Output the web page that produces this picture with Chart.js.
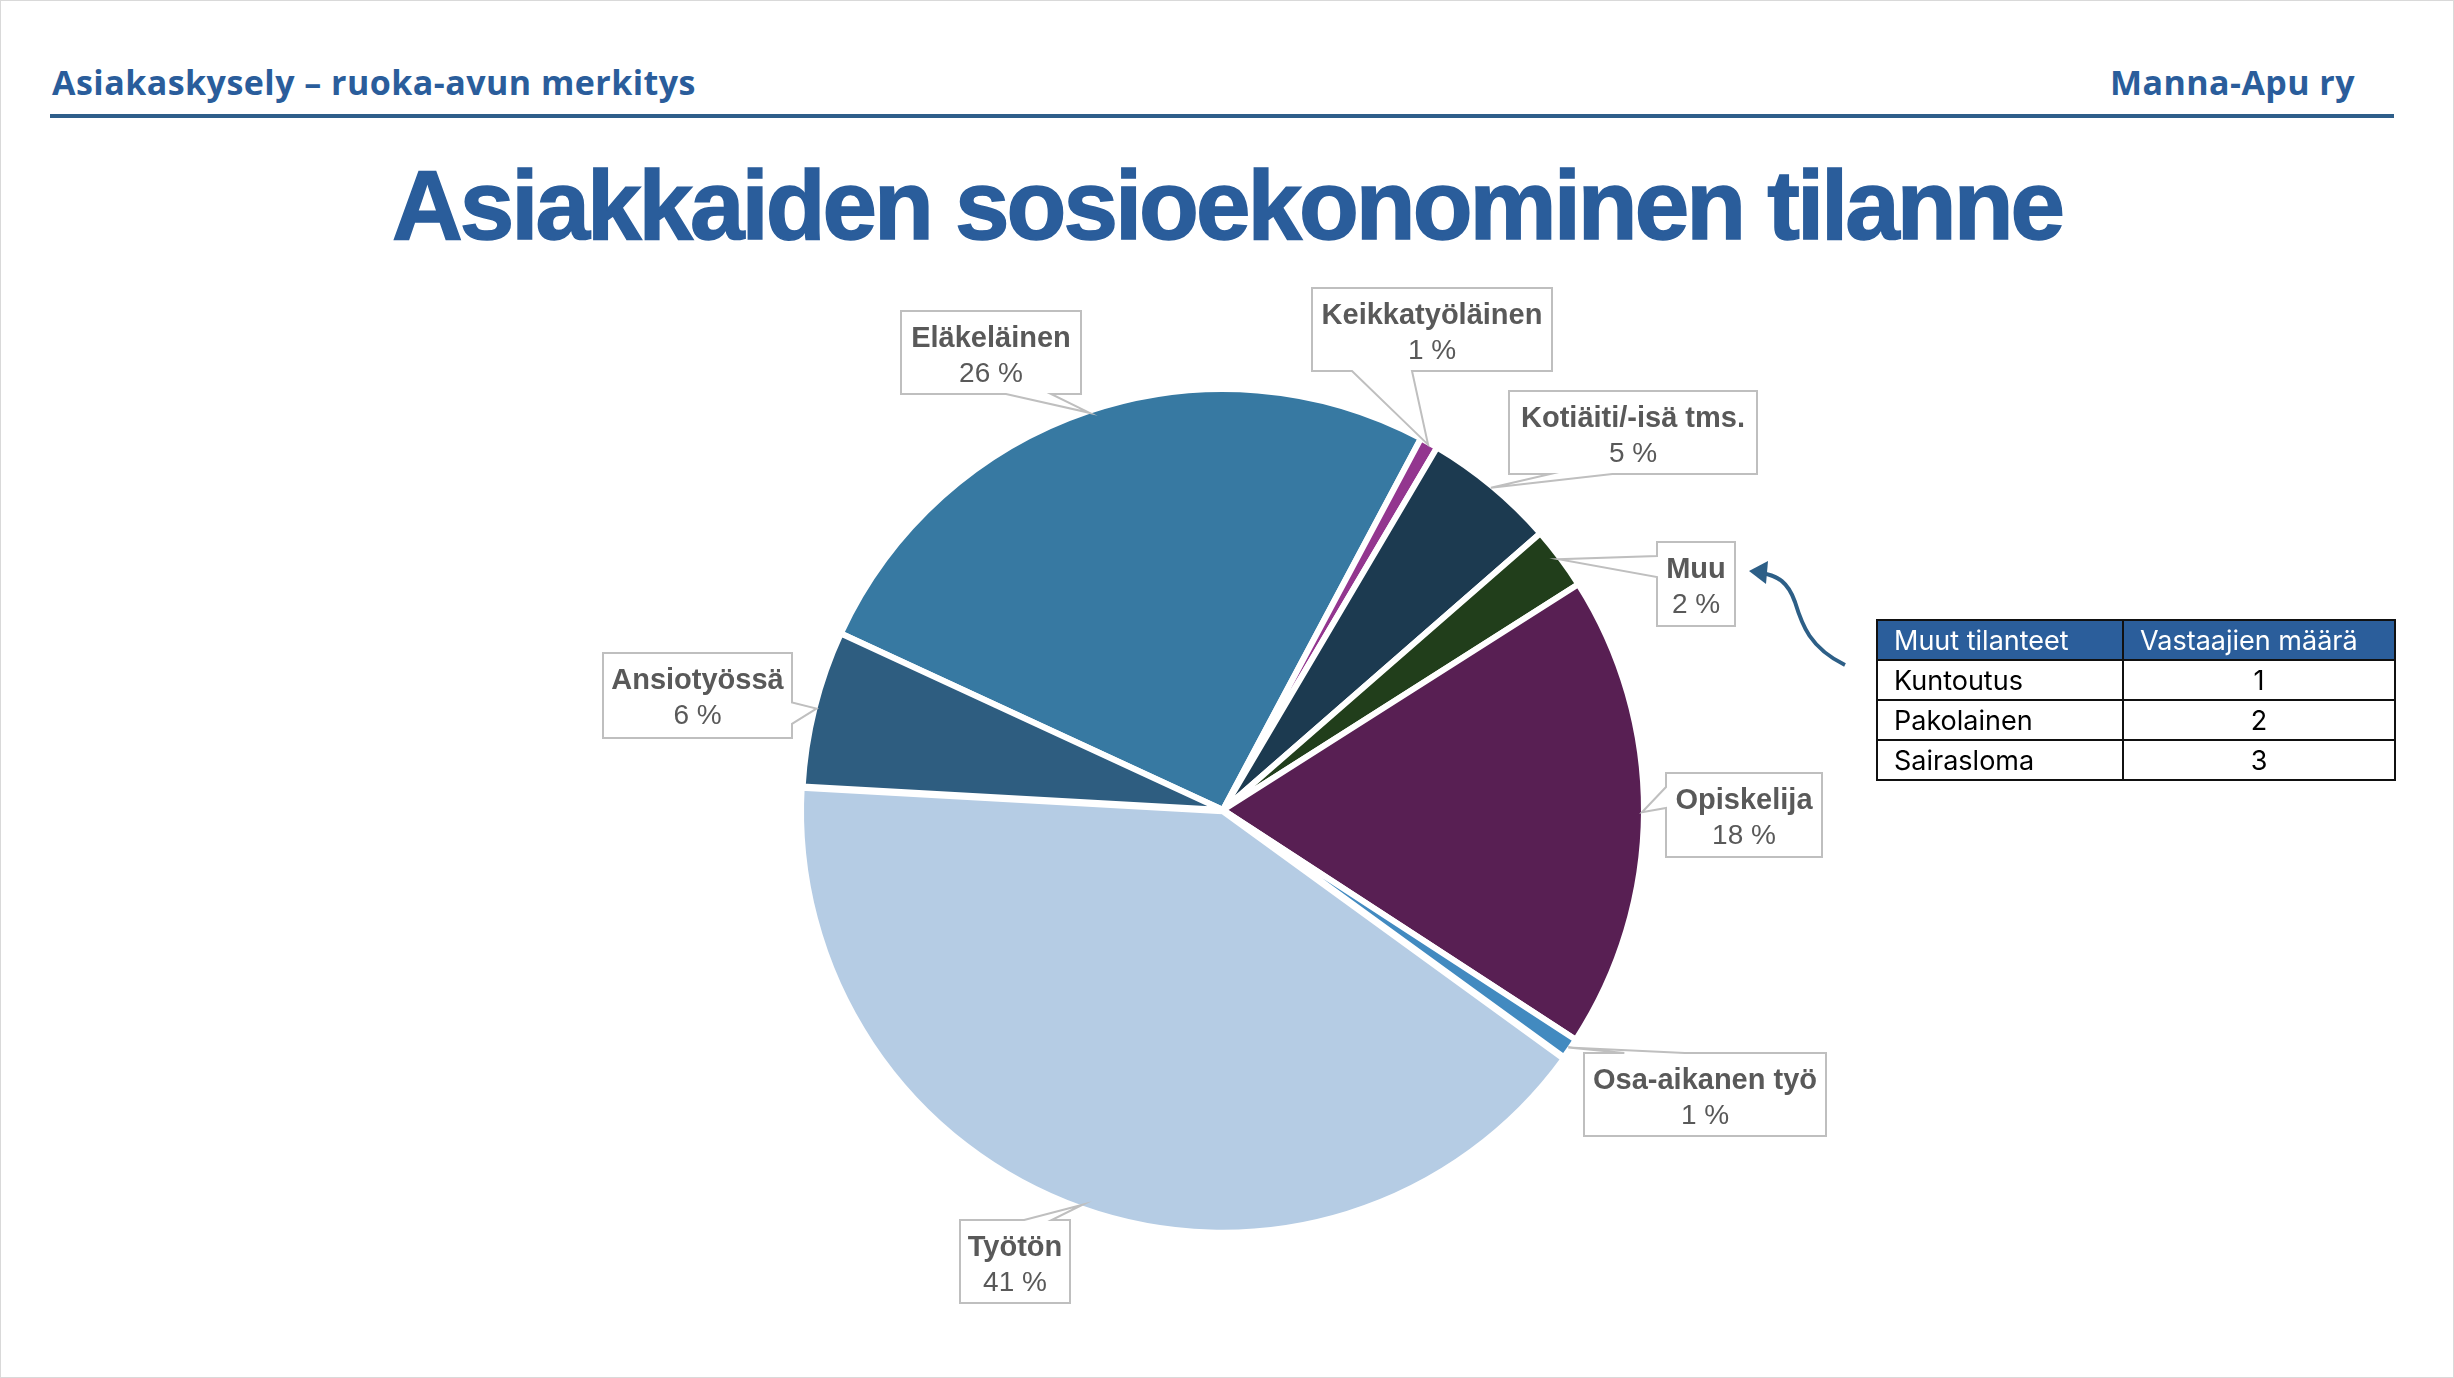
<!DOCTYPE html>
<html lang="fi">
<head>
<meta charset="utf-8">
<title>Asiakkaiden sosioekonominen tilanne</title>
<script src="https://cdn.jsdelivr.net/npm/chart.js@4"></script>
<style>
  html, body { margin: 0; padding: 0; background: #fff; }
  body { width: 2454px; height: 1378px; position: relative; overflow: hidden; }
  .frame { position: absolute; left: 0; top: 0; width: 2452px; height: 1376px; border: 1px solid #d9d9d9; pointer-events: none; }
  .hdr { position: absolute; top: 60px; font-family: "Open Sans", sans-serif; font-weight: 700; font-size: 34px; color: #2a5d9b; white-space: nowrap; line-height: 44px; }
  #hdrLeft { left: 52px; }
  #hdrRight { right: 99px; }
  .rule { position: absolute; left: 50px; top: 114px; width: 2344px; height: 4px; background: #2e5e8a; }
  #title { position: absolute; left: 0; width: 2454px; top: 150px; text-align: center; font-family: "Liberation Sans", Arial, sans-serif; font-weight: 700; font-size: 98px; line-height: 110px; color: #2a5d9b; white-space: nowrap; -webkit-text-stroke: 1.5px #2a5d9b; }
  #chart { position: absolute; left: 0; top: 0; }
  #arrow { position: absolute; left: 0; top: 0; }
  table { position: absolute; left: 1876px; top: 619px; border-collapse: collapse; font-family: "Inter", sans-serif; font-size: 27px; color: #000; }
  td, th { border: 2.5px solid #111; padding: 0 16px; height: 38px; font-weight: 400; }
  th { background: #2b5e9b; color: #fff; text-align: left; }
  td.n { text-align: center; }
  col.c1 { width: 246px; }
  col.c2 { width: 272px; }
</style>
</head>
<body>
<div class="hdr" id="hdrLeft">Asiakaskysely – ruoka-avun merkitys</div>
<div class="hdr" id="hdrRight">Manna-Apu ry</div>
<div class="rule"></div>
<div id="title">Asiakkaiden sosioekonominen tilanne</div>
<canvas id="chart" width="2454" height="1378"></canvas>
<svg id="arrow" width="2454" height="1378">
  <path d="M1845,665 C1810,648 1802,625 1795,602 C1788,582 1778,576 1762,573" fill="none" stroke="#2d5f87" stroke-width="4"/>
  <polygon points="1749,571 1768,561 1766,584" fill="#2d5f87"/>
</svg>
<table>
  <colgroup><col class="c1"><col class="c2"></colgroup>
  <tr><th>Muut tilanteet</th><th>Vastaajien määrä</th></tr>
  <tr><td>Kuntoutus</td><td class="n">1</td></tr>
  <tr><td>Pakolainen</td><td class="n">2</td></tr>
  <tr><td>Sairasloma</td><td class="n">3</td></tr>
</table>
<div class="frame"></div>
<script>
// Slices in drawing order (clockwise, starting from Eläkeläinen)
const categories = ['Eläkeläinen', 'Keikkatyöläinen', 'Kotiäiti/-isä tms.', 'Muu', 'Opiskelija', 'Osa-aikanen työ', 'Työtön', 'Ansiotyössä'];
const shares = [25.9, 0.7, 5.1, 2.4, 18.2, 0.8, 40.9, 6.0];
const sliceColors = ['#3779a2', '#93368f', '#1c3a50', '#213e1b', '#581f53', '#428ac0', '#b5cce4', '#2e5d80'];

// Callout boxes [left, top, width, height] in page pixels
const boxes = [
  [901, 311, 180, 83],
  [1312, 288, 240, 83],
  [1509, 391, 248, 83],
  [1657, 542, 78, 84],
  [1666, 773, 156, 84],
  [1584, 1053, 242, 83],
  [960, 1220, 110, 83],
  [603, 653, 189, 85]
];

const total = shares.reduce((a, b) => a + b, 0);

// stretch the header/title text to the width used on the slide
function fitWidth(id, target) {
  const el = document.getElementById(id);
  const span = document.createElement('span');
  span.textContent = el.textContent;
  el.textContent = '';
  el.appendChild(span);
  const w = span.getBoundingClientRect().width;
  const n = span.textContent.length;
  el.style.letterSpacing = ((target - w) / n) + 'px';
}
fitWidth('hdrLeft', 644);
fitWidth('hdrRight', 245);
fitWidth('title', 1670);

// Excel-style rectangular callout with a wedge pointing at (px, py)
function calloutPath(ctx, l, t, w, h, px, py) {
  const r = l + w, b = t + h, hc = l + w / 2, vc = t + h / 2;
  const dx = px - hc, dy = py - vc;
  const dz = Math.abs(dy) - Math.abs(dx * h / w);
  const x1 = l + w * (dx > 0 ? 7 : 2) / 12, x2 = l + w * (dx > 0 ? 10 : 5) / 12;
  const y1 = t + h * (dy > 0 ? 7 : 2) / 12, y2 = t + h * (dy > 0 ? 10 : 5) / 12;
  ctx.beginPath();
  ctx.moveTo(l, t);
  if (dz > 0 && dy < 0) { ctx.lineTo(x1, t); ctx.lineTo(px, py); ctx.lineTo(x2, t); }
  ctx.lineTo(r, t);
  if (dz <= 0 && dx > 0) { ctx.lineTo(r, y1); ctx.lineTo(px, py); ctx.lineTo(r, y2); }
  ctx.lineTo(r, b);
  if (dz > 0 && dy > 0) { ctx.lineTo(x2, b); ctx.lineTo(px, py); ctx.lineTo(x1, b); }
  ctx.lineTo(l, b);
  if (dz <= 0 && dx < 0) { ctx.lineTo(l, y2); ctx.lineTo(px, py); ctx.lineTo(l, y1); }
  ctx.closePath();
}

const calloutPlugin = {
  id: 'callouts',
  afterDatasetsDraw(chart) {
    const ctx = chart.ctx;
    const meta = chart.getDatasetMeta(0);
    ctx.save();
    meta.data.forEach((arc, i) => {
      const p = arc.getProps(['x', 'y', 'startAngle', 'endAngle', 'outerRadius']);
      const mid = (p.startAngle + p.endAngle) / 2;
      const ax = p.x + Math.cos(mid) * (p.outerRadius - 2);
      const ay = p.y + Math.sin(mid) * (p.outerRadius - 2);
      const [l, t, w, h] = boxes[i];
      calloutPath(ctx, l, t, w, h, ax, ay);
      ctx.fillStyle = '#fff';
      ctx.fill();
      ctx.lineWidth = 2;
      ctx.strokeStyle = '#bfbfbf';
      ctx.stroke();
      ctx.fillStyle = '#595959';
      ctx.textAlign = 'center';
      ctx.textBaseline = 'middle';
      ctx.font = 'bold 29px "Liberation Sans", Arial, sans-serif';
      ctx.fillText(categories[i], l + w / 2, t + 28);
      ctx.font = '28px "Liberation Sans", Arial, sans-serif';
      ctx.fillText(Math.round(shares[i] / total * 100) + ' %', l + w / 2, t + 63);
    });
    ctx.restore();
  }
};

new Chart(document.getElementById('chart').getContext('2d'), {
  type: 'pie',
  data: {
    labels: categories,
    datasets: [{
      data: shares,
      backgroundColor: sliceColors,
      borderColor: '#ffffff',
      borderWidth: 6,
      offset: [0, 0, 0, 0, 0, 0, 5, 0]
    }]
  },
  options: {
    responsive: false,
    devicePixelRatio: 1,
    animation: false,
    rotation: -65.2,
    radius: 421,
    layout: { padding: { left: 793, right: 801, top: 380, bottom: 138 } },
    plugins: {
      legend: { display: false },
      tooltip: { enabled: false }
    }
  },
  plugins: [calloutPlugin]
});
</script>
</body>
</html>
